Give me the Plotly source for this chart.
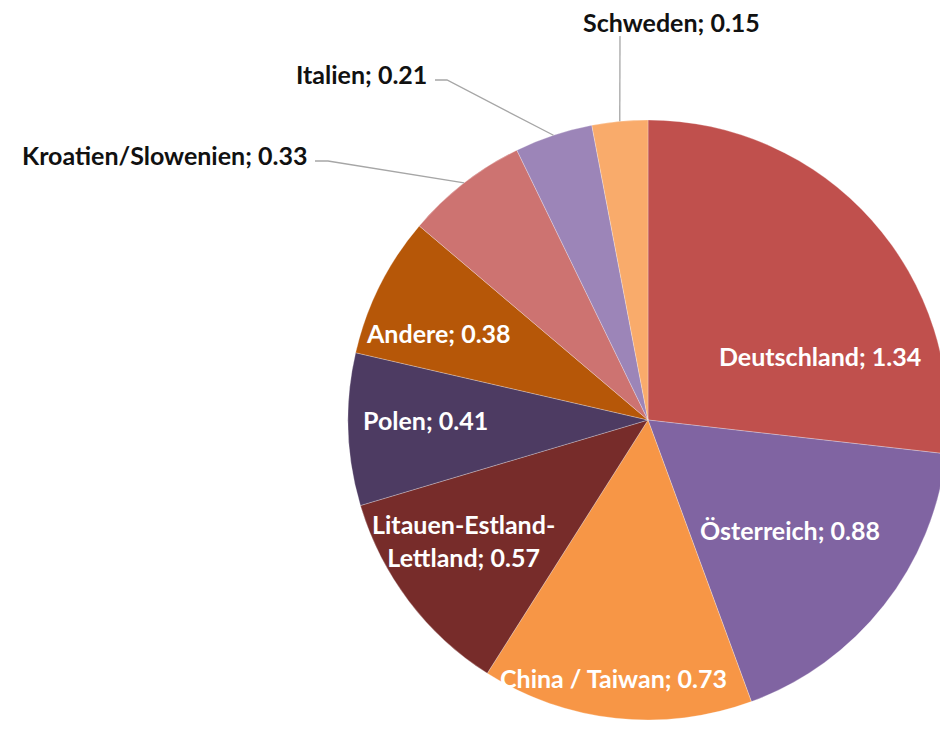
import math
import plotly.graph_objects as go

labels = ["Deutschland", "Österreich", "China / Taiwan", "Litauen-Estland-Lettland",
          "Polen", "Andere", "Kroatien/Slowenien", "Italien", "Schweden"]
values = [1.34, 0.88, 0.73, 0.57, 0.41, 0.38, 0.33, 0.21, 0.15]
colors = ["#C0504D", "#8064A2", "#F79646", "#772C2A", "#4D3B62",
          "#B65708", "#CD7371", "#9C85B8", "#F9AB6B"]

# page body has an 8px default margin; work in window pixels and convert
OFF = 8
W, H = 948 - OFF, 730 - 2 * OFF
cx, cy, r = 648, 420, 300  # window pixels

def px(x):
    return (x - OFF) / W

def py(y):
    return 1 - (y - OFF) / H

fig = go.Figure(go.Pie(
    labels=labels, values=values, sort=False, direction="clockwise", rotation=0,
    marker=dict(colors=colors, line=dict(color="rgba(255,255,255,0.45)", width=0.6)),
    textinfo="none", hoverinfo="label+value", showlegend=False,
    domain=dict(x=[px(cx - r), min(1, px(cx + r))], y=[py(cy + r), py(cy - r)]),
))

FONT = "Lato"
FS = 25
inside_pos = {
    "Deutschland": (820, 356),
    "Österreich": (790, 530),
    "China / Taiwan": (613, 678),
    "Litauen-Estland-Lettland": (463, 540),
    "Polen": (425, 420),
    "Andere": (438, 333),
}
# outside labels: (x, y, xanchor, leader line start points)
outside_pos = {
    "Kroatien/Slowenien": (309, 155, "right", [(315, 161), (328, 161)]),
    "Italien": (429, 74, "right", [(435, 80), (447, 80)]),
    "Schweden": (671, 22, "center", [(620, 36)]),
}

total = sum(values)
cum = 0.0
annotations = []
shapes = []
for lab, val in zip(labels, values):
    mid = (cum + val / 2) / total * 2 * math.pi
    cum += val
    txt = f"{lab}; {val:.2f}"
    if lab == "Litauen-Estland-Lettland":
        txt = f"Litauen-Estland-<br>Lettland; {val:.2f}"
    if lab in inside_pos:
        x, y = inside_pos[lab]
        annotations.append(dict(x=px(x), y=py(y), xref="paper", yref="paper",
                                text=f"<b>{txt}</b>", showarrow=False,
                                font=dict(family=FONT, size=FS, color="white"),
                                xanchor="center", yanchor="middle"))
    else:
        x, y, xa, pts = outside_pos[lab]
        annotations.append(dict(x=px(x), y=py(y), xref="paper", yref="paper",
                                text=f"<b>{txt}</b>", showarrow=False,
                                font=dict(family=FONT, size=FS, color="#111111"),
                                xanchor=xa, yanchor="middle"))
        ex = cx + r * math.sin(mid)
        ey = cy - r * math.cos(mid)
        allpts = pts + [(ex, ey)]
        path = "M " + " L ".join(f"{px(a)},{py(b)}" for a, b in allpts)
        shapes.append(dict(type="path", path=path, xref="paper", yref="paper",
                           line=dict(color="#A6A6A6", width=1.3)))

fig.update_layout(width=W, height=H, margin=dict(l=0, r=0, t=0, b=0),
                  paper_bgcolor="white", plot_bgcolor="white",
                  annotations=annotations, shapes=shapes)
fig.write_html("out.html")
